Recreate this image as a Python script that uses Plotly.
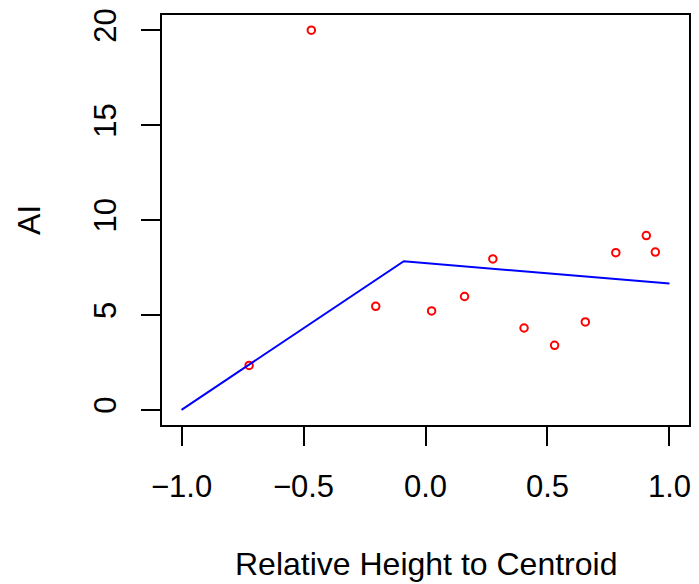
import plotly.graph_objects as go

# Observed AI values against relative height to centroid
rel_height = [-0.723, -0.468, -0.204, 0.025, 0.160, 0.276, 0.404, 0.529, 0.655, 0.780, 0.905, 0.942]
ai_values = [2.34, 20.0, 5.45, 5.21, 5.97, 7.95, 4.31, 3.40, 4.63, 8.28, 9.18, 8.31]

# Fitted piecewise-linear (broken-stick) model
fit_x = [-1.0, -0.089, 1.0]
fit_y = [0.0, 7.83, 6.65]

x_ticks = [-1.0, -0.5, 0.0, 0.5, 1.0]
x_tick_text = ["\u22121.0", "\u22120.5", "0.0", "0.5", "1.0"]
y_ticks = [0, 5, 10, 15, 20]

font_family = "Liberation Sans, Arial, sans-serif"

fig = go.Figure()
fig.add_trace(go.Scatter(
    x=rel_height, y=ai_values, mode="markers",
    marker=dict(symbol="circle-open", size=7.5, color="#FF0000",
                line=dict(color="#FF0000", width=2)),
    showlegend=False,
))
fig.add_trace(go.Scatter(
    x=fit_x, y=fit_y, mode="lines",
    line=dict(color="#0000FF", width=2),
    showlegend=False,
))

axis_common = dict(
    showline=True, linecolor="black", linewidth=2, mirror=True,
    showgrid=False, zeroline=False,
    ticks="outside", ticklen=19, tickwidth=2, tickcolor="black",
    tickfont=dict(family=font_family, size=31, color="black"),
)

fig.update_layout(
    width=699, height=584,
    margin=dict(l=162, r=8, t=11, b=159),
    paper_bgcolor="white", plot_bgcolor="white",
    font=dict(family=font_family, color="black"),
    xaxis=dict(
        range=[-1.08, 1.08],
        tickmode="array", tickvals=x_ticks, ticktext=x_tick_text,
        ticklabelstandoff=14,
        **axis_common,
    ),
    yaxis=dict(
        range=[-0.8, 20.8],
        tickmode="array", tickvals=y_ticks, tickangle=-90,
        ticklabelstandoff=13,
        **axis_common,
    ),
    annotations=[
        dict(text="Relative Height to Centroid", xref="paper", yref="paper",
             x=0.5, y=0, xanchor="center", yanchor="middle", yshift=-139,
             showarrow=False, font=dict(family=font_family, size=32, color="black")),
        dict(text="AI", xref="paper", yref="paper", textangle=-90,
             x=0, y=0.5, xanchor="center", yanchor="middle", xshift=-133,
             showarrow=False, font=dict(family=font_family, size=32, color="black")),
    ],
)

fig.write_html("out.html")
